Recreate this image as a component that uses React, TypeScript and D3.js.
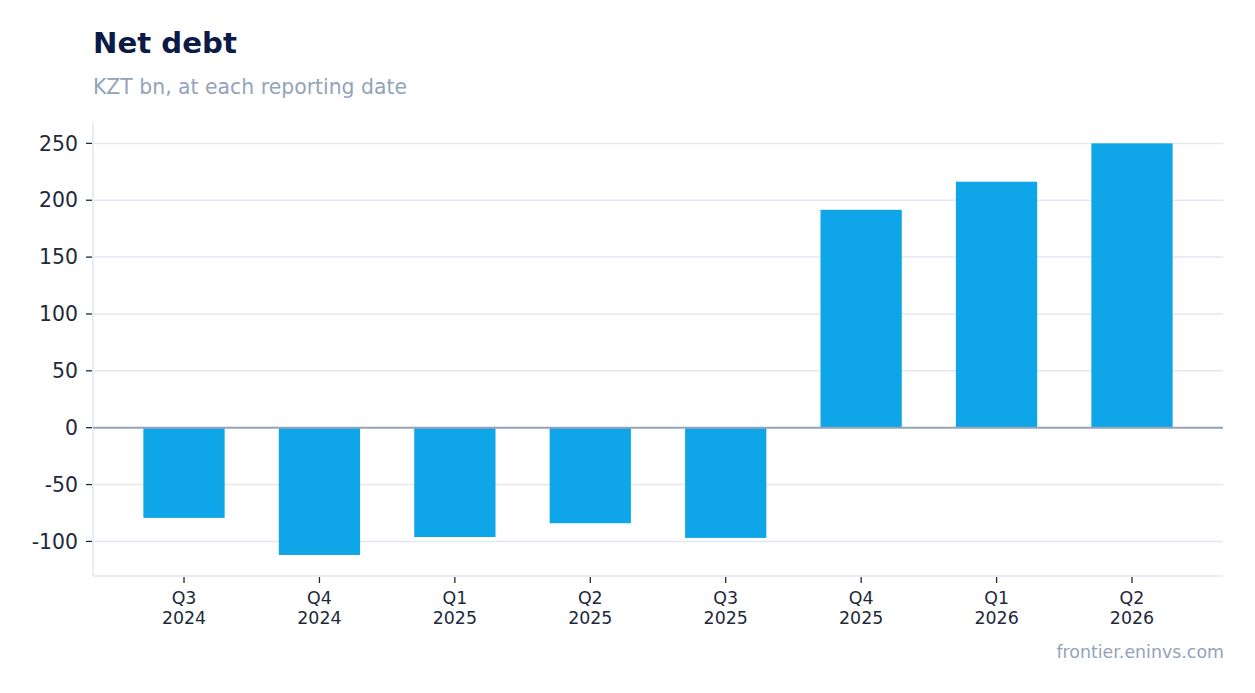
import * as d3 from "d3";
import React from "react";

const quarters = ["Q3", "Q4", "Q1", "Q2", "Q3", "Q4", "Q1", "Q2"];
const years = ["2024", "2024", "2025", "2025", "2025", "2025", "2026", "2026"];
const netDebt = [-79.3, -111.9, -96.1, -84.0, -96.9, 191.6, 216.3, 250];
const yTicks = [-100, -50, 0, 50, 100, 150, 200, 250];

const W = 1255;
const H = 693;
const m = { l: 93, r: 1223, t: 122, b: 576 };
const font = "DejaVu Sans, sans-serif";

const App: React.FC = () => {
  const keys = quarters.map((q, i) => q + " " + years[i]);
  const x = d3.scaleBand<string>().domain(keys).range([m.l, m.r]).paddingInner(0.4).paddingOuter(0.372);
  const y = d3.scaleLinear().domain([-130.4, 268.8]).range([m.b, m.t]);

  return (
    <svg width={W} height={H} style={{ position: "absolute", left: 0, top: 0, background: "#fff" }} fontFamily={font}>
      <text x={93} y={53} fontSize={29.2} fontWeight="bold" fill="#0b1a46">Net debt</text>
      <text x={93} y={94} fontSize={20.4} fill="#94a3b8">KZT bn, at each reporting date</text>

      {/* grid */}
      {yTicks.filter(t => t !== 0).map(t => (
        <line key={t} x1={m.l} x2={m.r} y1={y(t)} y2={y(t)} stroke="#e2e8f0" strokeWidth={1.5} />
      ))}

      {/* axes */}
      <line x1={m.l} x2={m.l} y1={m.t} y2={m.b} stroke="#e2e8f0" strokeWidth={1.5} />
      <line x1={m.l} x2={m.r} y1={m.b} y2={m.b} stroke="#e2e8f0" strokeWidth={1.5} />

      {yTicks.map(t => (
        <g key={t} transform={`translate(0, ${y(t)})`}>
          <line x1={m.l - 7} x2={m.l - 1} stroke="#1e293b" strokeWidth={1.3} />
          <text x={78} dy="0.35em" textAnchor="end" fontSize={20.4} fill="#1e293b">{t}</text>
        </g>
      ))}

      {/* bars */}
      {netDebt.map((v, i) => (
        <rect key={keys[i]} x={x(keys[i])} width={x.bandwidth()} y={y(Math.max(0, v))}
          height={Math.abs(y(v) - y(0))} fill="#0ea5e9" />
      ))}

      <line x1={m.l} x2={m.r} y1={y(0)} y2={y(0)} stroke="#94a3b8" strokeWidth={2} />

      {keys.map((k, i) => {
        const cx = (x(k) || 0) + x.bandwidth() / 2;
        return (
          <g key={k} transform={`translate(${cx}, 0)`}>
            <line y1={m.b + 1} y2={m.b + 7} stroke="#1e293b" strokeWidth={1.3} />
            <text y={604} textAnchor="middle" fontSize={17.4} fill="#1e293b">{quarters[i]}</text>
            <text y={624} textAnchor="middle" fontSize={17.4} fill="#1e293b">{years[i]}</text>
          </g>
        );
      })}

      <text x={1224} y={658} textAnchor="end" fontSize={17.4} fill="#94a3b8">frontier.eninvs.com</text>
    </svg>
  );
};

export default App;
